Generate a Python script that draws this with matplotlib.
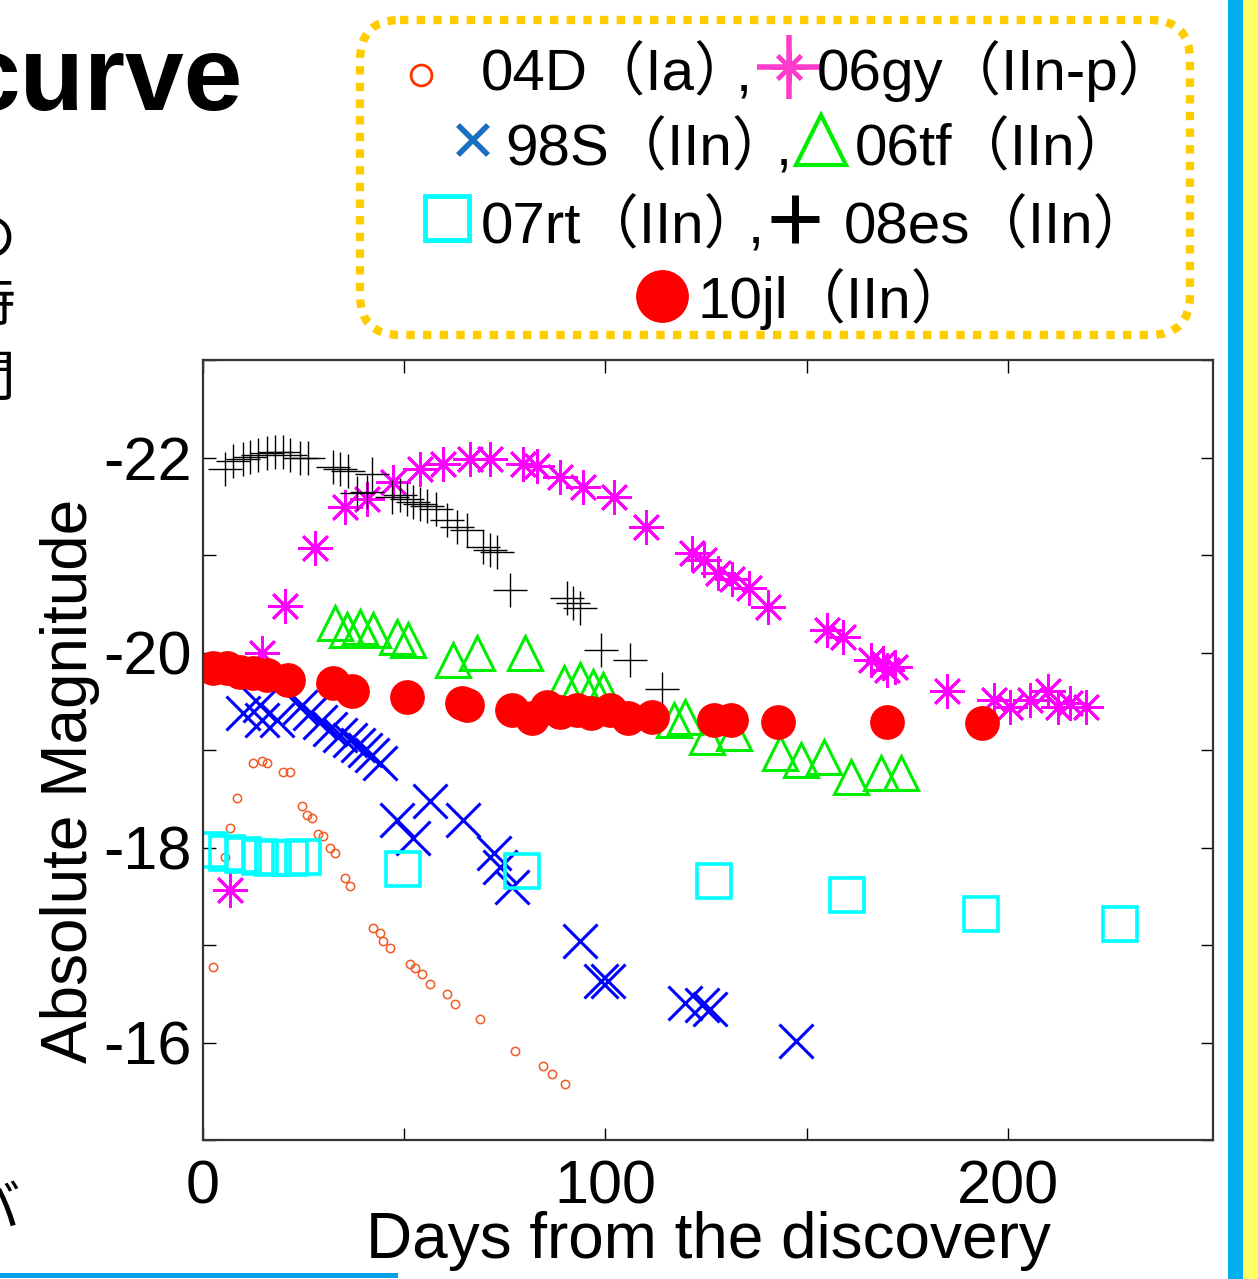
import numpy as np
import matplotlib.pyplot as plt
from matplotlib.patches import FancyBboxPatch, Rectangle

# light curve data (days from discovery, absolute magnitude)
sn04D_days = [2.5, 5.5, 6.7, 8.4, 12.5, 14.6, 15.8, 20.0, 21.6, 24.6, 25.8, 27.0, 28.7, 29.9,
              31.6, 32.9, 35.3, 36.6, 42.3, 44.0, 44.8, 46.5, 51.5, 52.7, 54.5, 56.5, 60.7,
              62.7, 68.9, 77.6, 84.6, 86.8, 90.0]
sn04D_mag = [-16.77, -17.9, -18.2, -18.51, -18.87, -18.89, -18.87, -18.77, -18.77, -18.43,
             -18.33, -18.3, -18.14, -18.12, -18.0, -17.94, -17.69, -17.61, -17.17, -17.12,
             -17.04, -16.97, -16.81, -16.76, -16.7, -16.6, -16.5, -16.4, -16.24, -15.91,
             -15.76, -15.68, -15.57]

sn06gy_days = [6.7, 14.7, 20.4, 27.9, 35.3, 40.8, 47.3, 54.0, 59.7, 66.4, 71.4, 79.6, 83.0,
               88.8, 94.5, 102.2, 110.1, 121.5, 124.5, 127.9, 131.4, 135.8, 140.3, 155.1,
               159.1, 165.9, 168.9, 169.9, 171.9, 184.8, 196.6, 200.5, 205.5, 210.0, 212.4,
               215.4, 219.4]
sn06gy_mag = [-17.56, -20.0, -20.48, -21.07, -21.49, -21.57, -21.75, -21.88, -21.93, -21.98,
              -21.98, -21.93, -21.91, -21.8, -21.7, -21.6, -21.29, -21.02, -20.95, -20.82,
              -20.75, -20.66, -20.47, -20.23, -20.16, -19.92, -19.89, -19.82, -19.85, -19.61,
              -19.51, -19.44, -19.51, -19.61, -19.44, -19.48, -19.44]

sn98S_days = [10.0, 14.2, 14.6, 18.4, 24.1, 26.6, 29.1, 31.6, 34.1, 36.6, 38.6, 40.3, 42.0,
              44.0, 48.3, 52.2, 56.5, 64.7, 72.2, 73.9, 76.8, 93.8, 98.8, 100.7, 119.9,
              123.9, 125.9, 147.3]
sn98S_mag = [-19.38, -19.46, -19.31, -19.31, -19.44, -19.38, -19.29, -19.22, -19.15, -19.1,
             -19.05, -19.0, -18.95, -18.87, -18.28, -18.1, -18.48, -18.28, -17.94, -17.8,
             -17.59, -17.04, -16.63, -16.63, -16.41, -16.38, -16.34, -16.02]

sn06tf_days = [32.8, 35.8, 39.0, 42.3, 48.2, 51.0, 62.2, 68.2, 80.0, 89.6, 93.8, 97.0, 99.5,
               117.0, 119.9, 125.3, 132.0, 143.5, 148.5, 154.3, 161.0, 168.4, 173.4]
sn06tf_mag = [-20.3, -20.23, -20.26, -20.23, -20.16, -20.13, -19.92, -19.99, -19.99, -19.69,
              -19.72, -19.65, -19.62, -19.31, -19.34, -19.13, -19.17, -18.97, -18.9, -18.93,
              -18.72, -18.76, -18.76]

sn07rt_days = [1.7, 6.0, 10.0, 14.2, 17.4, 21.6, 24.9, 49.8, 79.4, 126.9, 160.0, 193.3, 227.9]
sn07rt_mag = [-17.97, -17.94, -17.92, -17.9, -17.89, -17.89, -17.9, -17.78, -17.76, -17.66,
              -17.51, -17.32, -17.22]

sn08es_days = [5.5, 7.5, 10.0, 11.7, 13.7, 16.0, 18.0, 20.0, 21.6, 24.0, 26.0, 32.4, 34.0,
               36.0, 38.3, 40.8, 42.0, 47.0, 49.0, 50.7, 52.3, 54.0, 55.7, 58.0, 60.7, 63.2,
               65.7, 69.7, 71.4, 73.0, 76.4, 90.5, 92.0, 93.8, 98.8, 106.2, 114.1]
sn08es_mag = [-21.88, -21.96, -21.98, -22.01, -22.03, -22.05, -22.06, -22.06, -22.03, -22.0,
              -22.0, -21.9, -21.88, -21.86, -21.64, -21.65, -21.83, -21.6, -21.62, -21.57,
              -21.54, -21.52, -21.5, -21.47, -21.36, -21.29, -21.26, -21.08, -21.05, -21.03,
              -20.64, -20.56, -20.51, -20.46, -20.03, -19.92, -19.63]

sn10jl_days = [2.5, 6.0, 9.2, 12.5, 15.9, 21.1, 32.4, 37.0, 50.7, 64.4, 65.6, 76.8, 81.8,
               85.5, 88.8, 93.0, 96.3, 101.2, 105.7, 111.7, 126.9, 131.1, 143.0, 170.1, 193.7]
sn10jl_mag = [-19.84, -19.84, -19.8, -19.79, -19.77, -19.72, -19.69, -19.6, -19.54, -19.48,
              -19.46, -19.41, -19.33, -19.44, -19.39, -19.41, -19.38, -19.41, -19.33, -19.34,
              -19.31, -19.31, -19.29, -19.29, -19.28]

x_ticks = [0, 50, 100, 150, 200]
x_labels = ['0', '', '100', '', '200']
y_ticks = [-23, -22, -21, -20, -19, -18, -17, -16, -15]
y_labels = ['', '-22', '', '-20', '', '-18', '', '-16', '']

plt.rcParams['font.family'] = ['Liberation Sans', 'Noto Sans CJK JP']

W, H = 1258, 1279
fig = plt.figure(figsize=(W / 100, H / 100), dpi=100)
ax = fig.add_axes([203 / W, 1 - 1140 / H, 1010 / W, 780 / H])

ax.plot(sn04D_days, sn04D_mag, 'o', ms=6, mfc='none', mec='#f05a23', mew=1.1, ls='none')
ax.plot(sn98S_days, sn98S_mag, 'x', ms=24, color='#0000ff', mew=2.2, ls='none')
ax.plot(sn06gy_days, sn06gy_mag, marker=(8, 2, 0), ms=25, color='#ff00ff', mew=2.0, ls='none')
ax.plot(sn06tf_days, sn06tf_mag, '^', ms=25, mfc='none', mec='#00ee00', mew=2.2, ls='none')
ax.plot(sn07rt_days, sn07rt_mag, 's', ms=25, mfc='none', mec='#00ffff', mew=2.6, ls='none')
ax.plot(sn08es_days, sn08es_mag, '+', ms=24, color='black', mew=1.0, ls='none')
ax.plot(sn10jl_days, sn10jl_mag, 'o', ms=24, mfc='#ff0000', mec='#ff0000', ls='none')

ax.set_xlim(0, 251)
ax.set_ylim(-15, -23)
ax.set_xticks(x_ticks)
ax.set_xticklabels(x_labels)
ax.set_yticks(y_ticks)
ax.set_yticklabels(y_labels)
ax.tick_params(direction='in', length=9, width=1, top=True, right=True, labelsize=44)
ax.tick_params(axis='x', pad=14)
ax.tick_params(axis='y', pad=8)
for s in ax.spines.values():
    s.set_linewidth(1.6)
    s.set_color('#333333')
ax.set_xlabel('Days from the discovery', fontsize=46, labelpad=-4)
ax.set_ylabel('Absolute Magnitude', fontsize=46)
ax.yaxis.set_label_coords(-0.102, 0.46)

# slide decorations and the hand-made legend, in pixel coordinates
ov = fig.add_axes([0, 0, 1, 1], facecolor='none')
ov.set_xlim(0, W)
ov.set_ylim(H, 0)
ov.axis('off')

ov.text(243, 110, 'curve', fontsize=76, fontweight='bold', ha='right', va='baseline')
for ch, yy in [('の', 240), ('時', 305), ('間', 380)]:
    ov.text(-12, yy, ch, fontsize=40, ha='center', va='center', family='Noto Sans CJK JP')
ov.text(-8, 1210, 'バ', fontsize=40, ha='center', va='center', family='Noto Sans CJK JP')

ov.add_patch(Rectangle((1228, 0), 15, H, color='#00b0f0', lw=0))
ov.add_patch(Rectangle((1243, 0), 15, H, color='#ffff66', lw=0))
ov.add_patch(Rectangle((0, 1273), 398, 5, color='#00a0e8', lw=0))

box = FancyBboxPatch((360, 20), 830, 315, boxstyle='round,pad=0,rounding_size=40',
                     fc='none', ec='#ffcc00', lw=6, ls=(0, (1, 1)))
ov.add_patch(box)

fs = 42
ov.plot(421, 75, 'o', ms=15, mfc='none', mec='#ff3300', mew=2)
ov.text(481, 90, '04D（Ia）', fontsize=fs, va='baseline')
ov.text(736, 90, ',', fontsize=fs, va='baseline')
ov.plot(789, 67, '+', ms=46, color='#ff3dcc', mew=4)
ov.plot(789, 67, marker=(8, 2, 0), ms=24, color='#ff3dcc', mew=3)
ov.text(817, 90, '06gy（IIn-p）', fontsize=fs, va='baseline')

ov.plot(473, 140, 'x', ms=22, color='#1a70c0', mew=4)
ov.text(505, 165, '98S（IIn）', fontsize=fs, va='baseline')
ov.text(776, 165, ',', fontsize=fs, va='baseline')
ov.plot(821, 140, '^', ms=36, mfc='none', mec='#00ee00', mew=3)
ov.text(855, 165, '06tf（IIn）', fontsize=fs, va='baseline')

ov.plot(447, 218, 's', ms=32, mfc='none', mec='#00ffff', mew=3.5)
ov.text(481, 243, '07rt（IIn）', fontsize=fs, va='baseline')
ov.text(748, 243, ',', fontsize=fs, va='baseline')
ov.plot(795, 219, '+', ms=35, color='black', mew=5)
ov.text(844, 243, '08es（IIn）', fontsize=fs, va='baseline')

ov.plot(662, 296, 'o', ms=37, color='#ff0000')
ov.text(697, 318, '10jl（IIn）', fontsize=fs, va='baseline')

fig.savefig('out.png', dpi=100)
